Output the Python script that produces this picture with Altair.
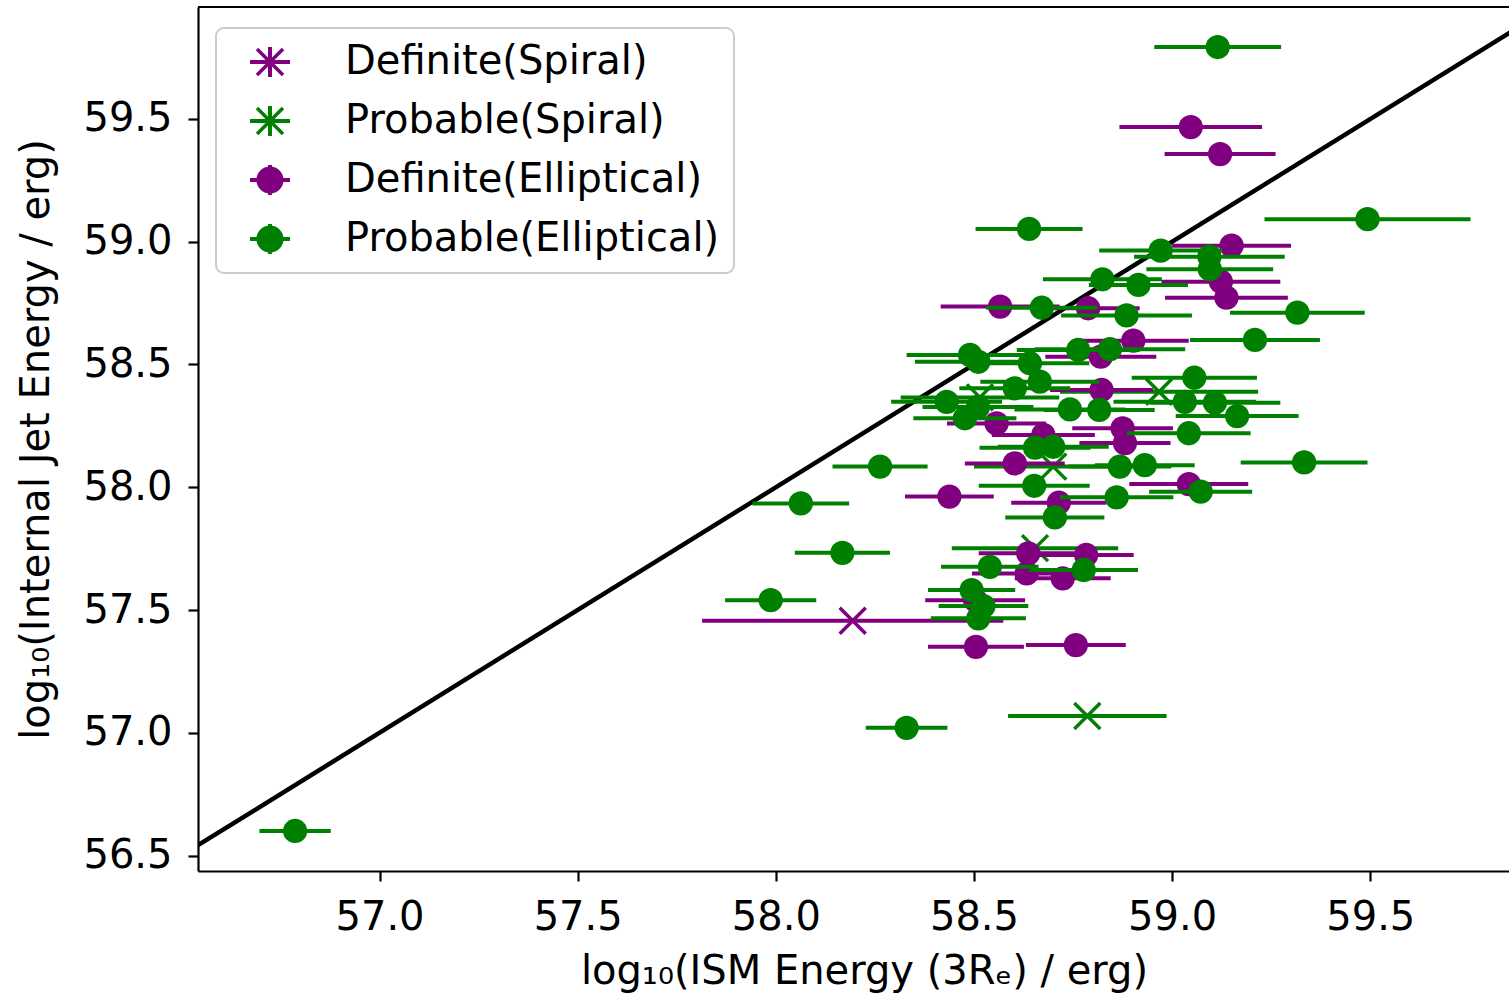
import altair as alt
import pandas as pd

# ---------------- data ----------------
cats = ["Definite(Spiral)", "Probable(Spiral)", "Definite(Elliptical)", "Probable(Elliptical)"]
cat_colors = ["purple", "green", "purple", "green"]

# Definite(Spiral) - purple x
ds_x = [58.194]
ds_y = [57.456]
ds_err = [0.38]

# Probable(Spiral) - green x
ps_x = [58.967, 58.515, 58.700, 58.654, 58.786]
ps_y = [58.389, 58.366, 58.084, 57.752, 57.068]
ps_err = [0.25, 0.20, 0.20, 0.21, 0.20]

# Definite(Elliptical) - purple circles
de_x = [59.047, 59.121, 59.150, 59.123, 59.137, 58.566, 58.788, 58.902, 58.820, 58.822,
        58.557, 58.675, 58.875, 58.881, 58.603, 59.042, 58.438, 58.714, 58.637, 58.783,
        58.633, 58.724, 58.503, 58.505, 58.757]
de_y = [59.467, 59.357, 58.984, 58.837, 58.772, 58.736, 58.729, 58.597, 58.532, 58.396,
        58.260, 58.213, 58.240, 58.180, 58.097, 58.013, 57.962, 57.937, 57.731, 57.724,
        57.649, 57.629, 57.540, 57.350, 57.357]
de_err = [0.18, 0.14, 0.15, 0.15, 0.155, 0.15, 0.13, 0.14, 0.14, 0.13,
          0.125, 0.13, 0.127, 0.115, 0.126, 0.15, 0.112, 0.12, 0.125, 0.12,
          0.138, 0.121, 0.126, 0.121, 0.126]

# Probable(Elliptical) - green circles
pe_x = [59.115, 58.639, 58.971, 59.094, 59.095, 58.824, 58.915, 59.316, 59.209, 58.671,
        58.885, 58.843, 58.763, 58.490, 58.511, 58.641, 58.666, 58.603, 59.056, 59.032,
        59.108, 59.164, 58.742, 58.816, 58.431, 58.477, 58.510, 59.042, 58.654, 58.700,
        58.868, 58.931, 59.333, 58.263, 58.652, 59.072, 58.860, 58.704, 58.063, 58.168,
        58.540, 58.777, 58.494, 58.524, 58.511, 57.987, 58.330, 56.787, 59.493]
pe_y = [59.793, 59.052, 58.964, 58.939, 58.888, 58.847, 58.824, 58.711, 58.600, 58.731,
        58.700, 58.562, 58.559, 58.539, 58.511, 58.505, 58.430, 58.403, 58.446, 58.348,
        58.344, 58.290, 58.317, 58.315, 58.348, 58.281, 58.327, 58.220, 58.161, 58.165,
        58.084, 58.090, 58.101, 58.084, 58.006, 57.982, 57.959, 57.877, 57.934, 57.733,
        57.676, 57.663, 57.581, 57.516, 57.466, 57.540, 57.020, 56.600, 59.092]
pe_err = [0.16, 0.135, 0.155, 0.19, 0.16, 0.15, 0.125, 0.17, 0.164, 0.14,
          0.165, 0.19, 0.155, 0.16, 0.16, 0.15, 0.15, 0.14, 0.158, 0.18,
          0.165, 0.155, 0.14, 0.14, 0.14, 0.13, 0.14, 0.156, 0.14, 0.14,
          0.13, 0.126, 0.16, 0.12, 0.14, 0.13, 0.143, 0.125, 0.122, 0.12,
          0.123, 0.137, 0.11, 0.113, 0.12, 0.115, 0.103, 0.09, 0.26]

# 1:1 reference line
line_x = [56.0, 60.5]
line_y = [56.0, 60.5]

x_ticks = [57.0, 57.5, 58.0, 58.5, 59.0, 59.5]
y_ticks = [56.5, 57.0, 57.5, 58.0, 58.5, 59.0, 59.5]
x_domain = [56.542, 59.850]
y_domain = [56.437, 59.956]

x_title = "log₁₀(ISM Energy (3Rₑ) / erg)"
y_title = "log₁₀(Internal Jet Energy / erg)"

# ---------------- styling ----------------
W, H = 1311, 864
FONT = "DejaVu Sans"
FS = 40

xs = alt.Scale(domain=x_domain, nice=False, zero=False)
ys = alt.Scale(domain=y_domain, nice=False, zero=False)
x_axis = alt.Axis(values=x_ticks, format=".1f", title=x_title, titleX=666,
                  labelPadding=16, titlePadding=14)
y_axis = alt.Axis(values=y_ticks, format=".1f", title=y_title,
                  labelPadding=16, titlePadding=26)

# legend symbols: error bar cross + marker (filled polygons)
hbar = "M-1,-0.1H1V0.1H-1Z"
vbar = "M-0.1,-0.75H0.1V0.75H-0.1Z"
circ = "M-0.68,0A0.68,0.68 0 1,1 0.68,0A0.68,0.68 0 1,1 -0.68,0Z"
xm = ("M-0.588,-0.712L0.712,0.588L0.588,0.712L-0.712,-0.588Z"
      "M-0.712,0.588L0.588,-0.712L0.712,-0.588L-0.588,0.712Z")
sym_x = hbar + vbar + xm
sym_c = hbar + vbar + circ
legend_paths = [sym_x, sym_x, sym_c, sym_c]

x_marker_path = "M-1,-1L1,1M-1,1L1,-1"

datasets = [
    (ds_x, ds_y, ds_err),
    (ps_x, ps_y, ps_err),
    (de_x, de_y, de_err),
    (pe_x, pe_y, pe_err),
]

layers = []

# reference line first (drawn under the points)
line_df = pd.DataFrame({"lx": line_x, "ly": line_y})
layers.append(
    alt.Chart(line_df).mark_line(color="black", strokeWidth=4.5, clip=True).encode(
        x=alt.X("lx:Q", scale=xs, axis=x_axis),
        y=alt.Y("ly:Q", scale=ys, axis=y_axis),
    )
)

for i, (cx, cy, ce) in enumerate(datasets):
    df = pd.DataFrame({"x": cx, "y": cy, "err": ce})
    col = cat_colors[i]
    base = alt.Chart(df)
    bars = base.mark_rule(color=col, strokeWidth=4, clip=True).transform_calculate(
        lo="datum.x - datum.err", hi="datum.x + datum.err"
    ).encode(
        x=alt.X("lo:Q", scale=xs, axis=x_axis),
        x2="hi:Q",
        y=alt.Y("y:Q", scale=ys, axis=y_axis),
    )
    if i < 2:
        marks = base.mark_point(shape=x_marker_path, size=676, filled=False,
                                stroke=col, strokeWidth=3.5, opacity=1, clip=True)
    else:
        marks = base.mark_circle(size=590, color=col, opacity=1, clip=True)
    marks = marks.encode(
        x=alt.X("x:Q", scale=xs, axis=x_axis),
        y=alt.Y("y:Q", scale=ys, axis=y_axis),
    )
    layers += [bars, marks]

# legend-only layer (no drawable points: position fields are absent)
leg = alt.Legend(
    title=None, orient="none", legendX=18, legendY=21,
    symbolSize=1600, symbolStrokeWidth=0, symbolOffset=20,
    labelOffset=55, rowPadding=19, padding=14,
    labelFontSize=FS, labelFont=FONT, labelColor="black", labelLimit=1000,
    fillColor="rgba(255,255,255,0.8)", strokeColor="#cccccc", cornerRadius=8,
)
leg_df = pd.DataFrame({"cat": cats})
layers.append(
    alt.Chart(leg_df).mark_point(filled=True, opacity=1, size=1600).encode(
        x=alt.X("nx:Q", scale=xs, axis=x_axis),
        y=alt.Y("ny:Q", scale=ys, axis=y_axis),
        fill=alt.Fill("cat:N", scale=alt.Scale(domain=cats, range=cat_colors), legend=leg),
        shape=alt.Shape("cat:N", scale=alt.Scale(domain=cats, range=legend_paths), legend=leg),
    )
)

# top frame line
layers.append(
    alt.Chart(pd.DataFrame({"f": [0]})).mark_rule(color="black", strokeWidth=2.2).encode(
        x=alt.value(0), x2=alt.value(W), y=alt.value(0)
    )
)

chart = alt.layer(*layers).properties(
    width=W, height=H,
    padding={"left": 198, "top": 7, "right": 0, "bottom": 124},
    autosize=alt.AutoSizeParams(type="none"),
).configure_view(stroke=None).configure_axis(
    grid=False, domainColor="black", domainWidth=2.2, tickColor="black", tickWidth=2.2,
    tickSize=10, labelFont=FONT, labelFontSize=FS, labelColor="black",
    titleFont=FONT, titleFontSize=FS, titleColor="black", titleFontWeight="normal",
).configure_legend(strokeWidth=2)

chart.save("out.html", embed_options={"renderer": "svg", "actions": False})
